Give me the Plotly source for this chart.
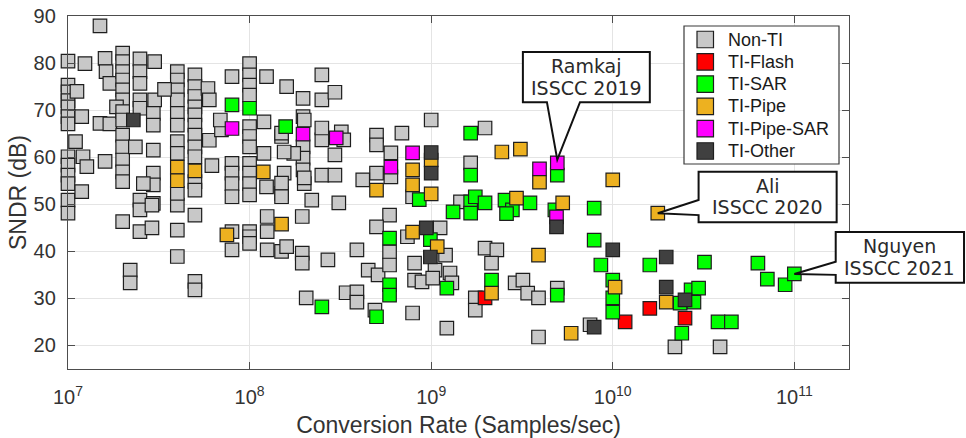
import numpy as np
import plotly.graph_objects as go

# ---------------- data: conversion rate (S/s) and SNDR (dB) per architecture ----------------
non_ti_rate = [
    1.0e7, 1.0e7, 1.0e7, 1.0e7, 1.0e7, 1.0e7, 1.0e7, 1.1e7, 1.0e7, 1.0e7, 1.0e7, 1.0e7, 1.0e7, 1.0e7,
    1.12e7, 1.24e7, 1.19e7, 1.21e7, 1.27e7, 1.19e7, 1.6e7, 1.5e7, 1.6e7, 1.62e7, 1.7e7, 1.5e7, 1.7e7,
    2.0e7, 2.0e7, 2.0e7, 2.0e7, 2.0e7, 2.0e7, 1.85e7, 2.0e7, 2.0e7, 2.0e7, 2.0e7, 2.0e7, 2.0e7, 2.0e7,
    2.35e7, 2.49e7, 2.49e7, 2.49e7, 2.49e7, 2.49e7, 3.0e7, 3.0e7, 2.95e7, 2.95e7, 2.95e7, 2.95e7, 2.95e7,
    2.6e7, 2.49e7, 2.95e7, 2.0e7, 2.49e7, 2.9e7, 2.49e7, 2.9e7, 2.2e7, 2.2e7,
    4.0e7, 4.0e7, 5.0e7, 4.0e7, 5.0e7, 5.0e7,
    4.0e7, 4.0e7, 4.0e7, 4.0e7, 4.0e7, 4.0e7, 4.0e7, 4.0e7, 4.0e7, 3.4e7,
    5.0e7, 5.0e7, 5.0e7, 5.0e7, 5.0e7, 5.0e7, 5.0e7, 5.0e7, 5.0e7, 5.0e7, 5.0e7, 5.9e7, 6.0e7, 6.0e7, 6.2e7,
    8.0e7, 7.0e7, 8.0e7, 8.0e7, 8.0e7, 8.0e7, 6.9e7,
    1.0e8, 1.0e8, 1.0e8, 1.0e8, 1.0e8, 1.0e8, 1.0e8, 1.0e8, 1.0e8, 1.0e8, 1.0e8,
    1.24e8, 1.2e8, 1.24e8, 1.2e8, 1.5e8, 1.6e8, 1.55e8, 1.5e8,
    1.97e8, 1.97e8, 1.97e8, 1.97e8, 1.97e8, 2.0e8, 2.2e8, 2.5e8, 2.5e8, 2.5e8, 2.5e8, 1.75e8,
    1.5e8, 1.55e8, 2.0e8, 2.0e8, 3.2e8, 1.5e8, 1.5e8,
    8.0e7, 8.0e7, 1.0e8, 1.0e8, 1.0e8, 1.25e8, 1.25e8, 1.25e8, 1.5e8, 1.6e8, 1.95e8, 1.95e8, 1.95e8,
    2.05e8, 2.7e8,
    2.95e8, 2.5e8, 3.3e8, 2.95e8, 2.95e8, 3.1e8, 5.0e8, 5.0e8, 6.0e8, 5.0e8, 4.2e8, 6.0e8, 6.9e8,
    5.9e8, 7.9e8, 1.0e9, 1.98e9, 1.65e9, 1.45e9,
    5.0e8, 1.12e9, 7.4e8, 3.9e8, 5.9e8, 1.2e9, 4.5e8, 5.1e8, 5.9e8, 8.1e8, 8.1e8, 8.9e8, 1.05e9,
    1.27e9, 1.3e9, 1.02e9, 3.4e8, 3.9e8, 3.9e8, 4.9e8, 7.9e8, 1.22e9,
    1.98e9, 2.3e9, 2.15e9, 1.75e9, 1.75e9, 2.9e9, 3.2e9, 3.4e9, 3.9e9, 3.9e9, 4.95e9, 7.5e9,
    2.2e10, 3.9e10,
]
non_ti_sndr = [
    80.4, 75.3, 73.9, 72.0, 70.7, 68.6, 67.1, 63.3, 60.1, 58.3, 56.2, 54.4, 50.9, 48.1,
    74.0, 79.9, 68.6, 60.1, 58.0, 52.7, 59.1, 87.9, 81.0, 78.2, 75.7, 67.2, 67.1,
    82.1, 80.3, 78.2, 76.4, 74.3, 72.2, 70.7, 69.7, 67.9, 64.7, 62.2, 59.4, 56.9, 54.8,
    62.2, 80.9, 78.2, 75.7, 72.2, 70.4, 80.3, 72.2, 69.3, 66.8, 61.5, 56.6, 54.1,
    54.4, 50.9, 50.2, 46.3, 48.8, 49.8, 44.2, 45.0, 36.0, 33.3,
    49.8, 44.5, 47.7, 38.9, 33.6, 31.8,
    78.2, 76.4, 74.3, 72.2, 69.3, 66.8, 63.3, 60.8, 52.3, 74.4,
    77.5, 75.0, 72.9, 70.7, 69.0, 66.8, 64.7, 62.2, 60.1, 54.8, 53.0, 74.6, 72.2, 63.6, 58.2,
    77.1, 65.8, 58.7, 56.6, 54.4, 51.6, 67.9,
    79.9, 77.5, 75.3, 73.2, 66.5, 64.4, 62.2, 58.7, 56.6, 54.4, 52.0,
    77.1, 67.5, 53.7, 60.8, 52.3, 75.0, 56.6, 64.4,
    72.5, 68.6, 62.2, 59.8, 57.3, 54.4, 50.9, 77.5, 72.2, 63.7, 56.2, 60.8,
    65.1, 61.1, 67.9, 55.6, 65.4, 54.5, 51.6,
    44.2, 40.3, 44.2, 43.1, 41.7, 47.4, 44.2, 40.3, 40.0, 41.0, 47.4, 39.6, 37.5,
    30.1, 38.2,
    73.8, 66.2, 63.7, 60.5, 56.2, 50.3, 64.7, 62.6, 60.9, 56.6, 55.2, 55.8, 65.1,
    47.7, 51.6, 67.9, 66.2, 58.8, 50.5,
    45.2, 45.0, 43.1, 40.3, 39.9, 39.2, 36.0, 35.0, 37.1, 37.5, 33.9, 33.5, 36.0,
    35.4, 33.3, 34.3, 31.2, 31.4, 29.2, 27.5, 26.9, 23.7,
    40.7, 40.3, 37.5, 30.1, 27.5, 33.3, 33.9, 31.1, 30.1, 21.8, 32.2, 24.4,
    19.7, 19.7,
]

ti_flash_rate = [1.98e9, 1.17e10, 1.6e10, 2.5e10]
ti_flash_sndr = [30.1, 25.0, 27.9, 25.8]

ti_sar_rate = [
    8.0e7, 1.0e8, 1.58e8, 2.5e8, 8.6e8,
    1.65e9, 1.65e9, 4.95e9, 7.9e9,
    1.32e9, 1.65e9, 1.65e9, 1.75e9, 1.98e9, 2.55e9, 2.8e9, 2.6e9, 3.5e9, 4.8e9,
    5.9e8, 9.9e8, 5.9e8, 5.9e8, 5.0e8, 1.22e9, 2.15e9, 4.95e9,
    7.9e9, 8.6e9, 1.0e10, 1.0e10, 1.0e10, 1.6e10, 3.2e10, 6.3e10, 7.1e10, 8.9e10, 1.0e11,
    2.7e10, 2.97e10, 2.35e10, 2.8e10, 2.4e10, 3.8e10, 4.5e10,
]
ti_sar_sndr = [
    71.1, 70.4, 66.5, 28.2, 51.0,
    65.1, 56.2, 56.2, 49.2,
    48.4, 50.5, 48.1, 51.6, 50.3, 50.9, 48.8, 48.0, 50.3, 48.8,
    42.8, 42.5, 32.9, 30.7, 26.1, 32.2, 33.9, 30.7,
    42.4, 37.1, 33.9, 30.1, 27.1, 37.1, 37.7, 37.5, 34.1, 32.9, 35.2,
    31.8, 32.2, 29.0, 29.2, 22.6, 25.0, 25.0,
]

ti_pipe_rate = [
    4.0e7, 4.0e7, 5.0e7, 7.5e7, 1.19e8, 1.5e8, 5.0e8, 7.9e8, 7.9e8, 1.0e9, 1.0e9,
    2.45e9, 3.1e9, 3.95e9, 1.0e10, 5.3e9, 2.95e9, 7.9e8, 1.08e9, 2.15e9, 3.9e9,
    5.9e9, 1.03e10, 1.77e10, 1.97e10,
]
ti_pipe_sndr = [
    57.9, 55.0, 57.1, 43.5, 56.9, 45.8, 53.0, 57.3, 54.1, 59.4, 52.2,
    61.1, 61.7, 54.7, 55.2, 50.3, 51.3, 44.1, 41.0, 31.1, 39.2,
    22.6, 32.4, 48.1, 29.2,
]

ti_pipe_sar_rate = [8.0e7, 1.97e8, 3.0e8, 6.0e8, 7.9e8, 3.95e9, 4.95e9, 4.9e9]
ti_pipe_sar_sndr = [66.1, 64.9, 64.1, 57.9, 60.9, 57.5, 58.8, 47.3]

ti_other_rate = [2.29e7, 1.0e9, 1.0e9, 9.4e8, 9.9e8, 4.9e9, 1.0e10, 7.9e9, 1.97e10, 1.97e10, 2.5e10]
ti_other_sndr = [67.9, 61.0, 56.6, 45.0, 38.8, 45.2, 40.3, 23.9, 38.8, 32.4, 29.7]

x_tick_vals = [1e7, 1e8, 1e9, 1e10, 1e11]
x_tick_text = ["10<sup>7</sup>", "10<sup>8</sup>", "10<sup>9</sup>", "10<sup>10</sup>", "10<sup>11</sup>"]
y_tick_vals = [20, 30, 40, 50, 60, 70, 80, 90]

# callouts: two text lines, highlighted design (rate, SNDR), box corners and tail base (rate, SNDR)
callouts = [
    dict(lines=("Ramkaj", "ISSCC 2019"), tip=(4.95e9, 59.5),
         box=(3.2e9, 1.6e10, 71.7, 82.35), base=((4.34e9, 71.7), (6.6e9, 71.7))),
    dict(lines=("Ali", "ISSCC 2020"), tip=(1.77e10, 48.1),
         box=(2.97e10, 1.71e11, 46.2, 56.9), base=((2.97e10, 50.9), (2.97e10, 47.7))),
    dict(lines=("Nguyen", "ISSCC 2021"), tip=(1.0e11, 35.2),
         box=(1.69e11, 8.6e11, 33.3, 44.1), base=((1.69e11, 37.8), (1.69e11, 35.0))),
]

X_RANGE = [7.0, np.log10(2e11)]
Y_RANGE = [15, 90]

W, H = 966, 438
M_L, M_R, M_T, M_B = 68, 117, 16, 69
PLOT_W, PLOT_H = W - M_L - M_R, H - M_T - M_B

AX_COLOR = "#4d4d4d"
TXT_COLOR = "#333333"
GRID = "#e4e4e4"
EDGE = "#1e1e1e"
SANS = "Liberation Sans, Arial, sans-serif"

series = [
    ("Non-TI", non_ti_rate, non_ti_sndr, "#c8c8c8"),
    ("TI-Flash", ti_flash_rate, ti_flash_sndr, "#ff0000"),
    ("TI-SAR", ti_sar_rate, ti_sar_sndr, "#00ff00"),
    ("TI-Pipe", ti_pipe_rate, ti_pipe_sndr, "#edb120"),
    ("TI-Pipe-SAR", ti_pipe_sar_rate, ti_pipe_sar_sndr, "#ff00ff"),
    ("TI-Other", ti_other_rate, ti_other_sndr, "#404040"),
]

fig = go.Figure()
for name, xs, ys, color in series:
    fig.add_trace(go.Scatter(
        x=xs, y=ys, mode="markers", name=name, showlegend=False, cliponaxis=False,
        marker=dict(symbol="square", size=13.5, color=color,
                    line=dict(color=EDGE, width=1.2)),
    ))


def px(rate):
    """data rate -> paper x"""
    return (np.log10(rate) - X_RANGE[0]) / (X_RANGE[1] - X_RANGE[0])


def py(db):
    """data SNDR -> paper y"""
    return (db - Y_RANGE[0]) / (Y_RANGE[1] - Y_RANGE[0])


def pp_x(pix):
    """page pixel column -> paper x"""
    return (pix - M_L) / PLOT_W


def pp_y(pix):
    """page pixel row -> paper y"""
    return (H - M_B - pix) / PLOT_H


shapes = []
annotations = []

# callout bubbles pointing at highlighted designs
for c in callouts:
    x0, x1, y0, y1 = c["box"]
    (bx_a, by_a), (bx_b, by_b) = c["base"]
    tx, ty = c["tip"]
    if by_a == by_b:  # tail leaves the bottom edge
        pts = [(x0, y1), (x1, y1), (x1, y0), (bx_b, by_b), (tx, ty), (bx_a, by_a), (x0, y0)]
    else:  # tail leaves the left edge
        pts = [(x0, y1), (x1, y1), (x1, y0), (x0, y0), (bx_b, by_b), (tx, ty), (bx_a, by_a)]
    path = "M " + " L ".join(f"{px(a):.5f},{py(b):.5f}" for a, b in pts) + " Z"
    shapes.append(dict(type="path", path=path, xref="paper", yref="paper",
                       fillcolor="white", line=dict(color="#111111", width=2), layer="above"))
    cx, cy = (px(x0) + px(x1)) / 2, (py(y0) + py(y1)) / 2
    for line_text, shift in zip(c["lines"], (11, -10.5)):
        annotations.append(dict(
            text=line_text, xref="paper", yref="paper", x=cx, y=cy, yshift=shift,
            xanchor="center", yanchor="middle", showarrow=False,
            font=dict(family="DejaVu Sans, Verdana, sans-serif", size=19, color="#2a2a2a"),
        ))

# legend panel
LEG_BOX = (684, 26, 839, 164)       # left, top, right, bottom (px)
LEG_ROW0, LEG_DY = 39.5, 22.3
LEG_SW_X0, LEG_SW = 697, 16.5
LEG_TXT_X = 726
shapes.append(dict(type="rect", xref="paper", yref="paper",
                   x0=pp_x(LEG_BOX[0]), x1=pp_x(LEG_BOX[2]),
                   y0=pp_y(LEG_BOX[3]), y1=pp_y(LEG_BOX[1]),
                   fillcolor="white", line=dict(color="#3a3a3a", width=1.2), layer="above"))
for i, (name, _, _, color) in enumerate(series):
    yc = LEG_ROW0 + i * LEG_DY
    shapes.append(dict(type="rect", xref="paper", yref="paper",
                       x0=pp_x(LEG_SW_X0), x1=pp_x(LEG_SW_X0 + LEG_SW),
                       y0=pp_y(yc + LEG_SW / 2), y1=pp_y(yc - LEG_SW / 2),
                       fillcolor=color, line=dict(color=EDGE, width=1.2), layer="above"))
    annotations.append(dict(
        text=name, xref="paper", yref="paper", x=pp_x(LEG_TXT_X), y=pp_y(yc),
        xanchor="left", yanchor="middle", showarrow=False,
        font=dict(family=SANS, size=18, color="#1a1a1a"),
    ))

fig.update_layout(
    width=W, height=H,
    margin=dict(l=M_L, r=M_R, t=M_T, b=M_B, autoexpand=False),
    paper_bgcolor="white", plot_bgcolor="white",
    showlegend=False,
    shapes=shapes,
    annotations=annotations,
    xaxis=dict(
        type="log", range=X_RANGE, automargin=False,
        tickvals=x_tick_vals, ticktext=x_tick_text,
        ticks="inside", ticklen=7, tickwidth=1, tickcolor=AX_COLOR,
        showline=True, linecolor=AX_COLOR, linewidth=1.3, mirror="ticks",
        showgrid=True, gridcolor=GRID, gridwidth=1.3, zeroline=False,
        tickfont=dict(family=SANS, size=20, color=TXT_COLOR),
        ticklabelstandoff=10,
        title=dict(text="Conversion Rate (Samples/sec)", standoff=12,
                   font=dict(family=SANS, size=23, color=TXT_COLOR)),
    ),
    yaxis=dict(
        range=Y_RANGE, tickvals=y_tick_vals, automargin=False,
        ticks="inside", ticklen=7, tickwidth=1, tickcolor=AX_COLOR,
        showline=True, linecolor=AX_COLOR, linewidth=1.3, mirror="ticks",
        showgrid=True, gridcolor=GRID, gridwidth=1.3, zeroline=False,
        tickfont=dict(family=SANS, size=20, color=TXT_COLOR),
        ticklabelstandoff=7,
        title=dict(text="SNDR (dB)", standoff=0,
                   font=dict(family=SANS, size=23, color=TXT_COLOR)),
    ),
)

fig.write_html("out.html")
